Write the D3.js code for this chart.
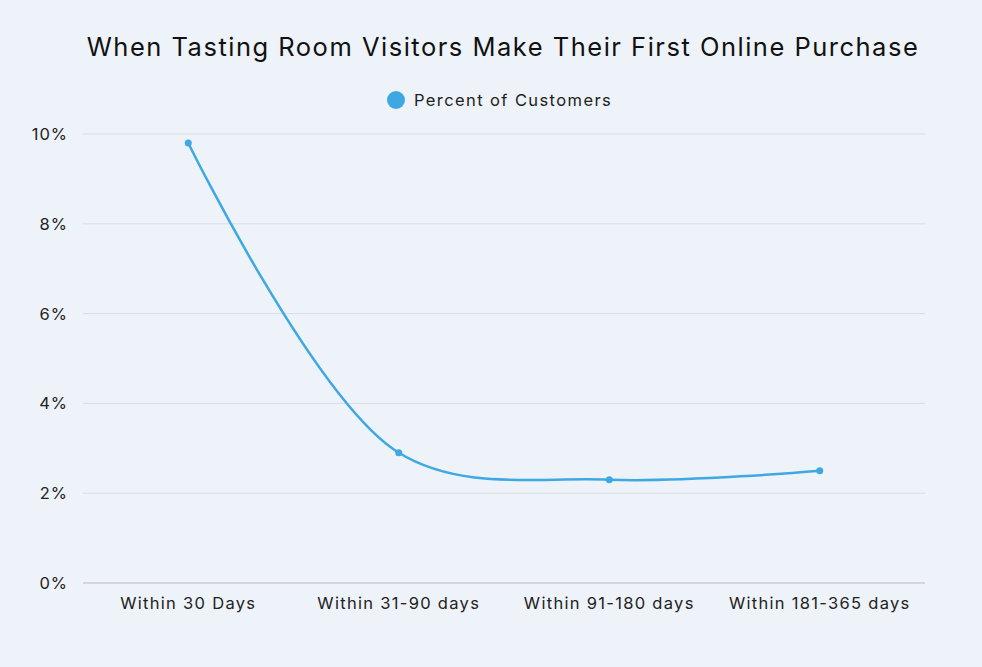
<!DOCTYPE html><html><head><meta charset="utf-8">
<script src="https://cdn.jsdelivr.net/npm/d3@7"></script>
<style>body{margin:0;background:#eef3f9}svg{font-family:Inter,"Open Sans",sans-serif}</style></head><body>
<svg id="c" width="982" height="667"></svg>
<script>
const categories=["Within 30 Days","Within 31-90 days","Within 91-180 days","Within 181-365 days"];
const values=[9.8,2.9,2.3,2.5];
const yTicks=[0,2,4,6,8,10];
const seriesName="Percent of Customers";
const color="#3ea8e2";
const svg=d3.select("#c");
svg.append("rect").attr("width",982).attr("height",667).attr("fill","#eef3f9");
const x=d3.scaleBand().domain(categories).range([83,925]);
const y=d3.scaleLinear().domain([0,10]).range([583,134]);
svg.append("text").attr("x",503).attr("y",56).attr("text-anchor","middle").attr("font-size",25.5).attr("letter-spacing",1.5).attr("fill","#111").text("When Tasting Room Visitors Make Their First Online Purchase");
svg.append("circle").attr("cx",396).attr("cy",100).attr("r",9).attr("fill",color);
svg.append("text").attr("x",414).attr("y",106).attr("font-size",16.5).attr("letter-spacing",1.4).attr("fill","#222").text(seriesName);
svg.append("g").selectAll("line").data(yTicks).join("line").attr("x1",83).attr("x2",925).attr("y1",d=>y(d)).attr("y2",d=>y(d)).attr("stroke",d=>d===0?"#bbb":"#d8dde3");
svg.append("g").selectAll("text").data(yTicks).join("text").attr("x",68).attr("y",d=>y(d)+6).attr("text-anchor","end").attr("font-size",16.5).attr("letter-spacing",1).attr("fill","#222").text(d=>d+"%");
svg.append("g").selectAll("text").data(categories).join("text").attr("x",d=>x(d)+x.bandwidth()/2).attr("y",609).attr("text-anchor","middle").attr("font-size",16.5).attr("letter-spacing",1.3).attr("fill","#222").text(d=>d);
const pts=categories.map((c,i)=>[x(c)+x.bandwidth()/2,y(values[i])]);
svg.append("path").attr("d",d3.line().curve(d3.curveCatmullRom.alpha(0.5))(pts)).attr("fill","none").attr("stroke",color).attr("stroke-width",2.5);
svg.append("g").selectAll("circle").data(pts).join("circle").attr("cx",d=>d[0]).attr("cy",d=>d[1]).attr("r",3.5).attr("fill",color);
</script></body></html>
